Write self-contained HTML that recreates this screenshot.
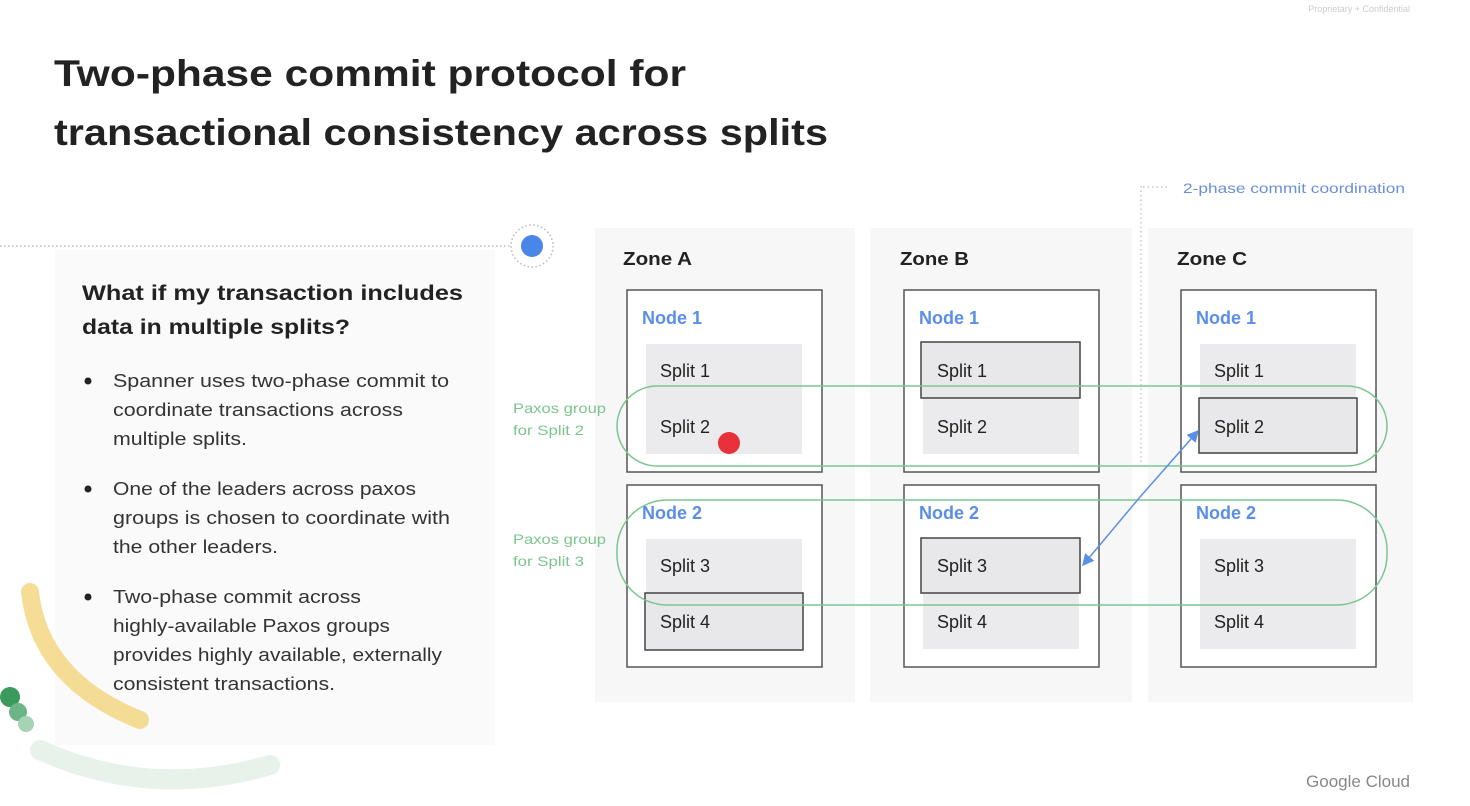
<!DOCTYPE html>
<html><head><meta charset="utf-8"><style>
html,body{margin:0;padding:0;background:#fff;}
body{width:1470px;height:806px;overflow:hidden;position:relative;font-family:"Liberation Sans",sans-serif;}
svg{position:absolute;left:0;top:0;}
</style></head><body>
<svg width="1470" height="806" viewBox="0 0 1470 806" font-family="Liberation Sans, sans-serif">
<defs>
<marker id="ah" markerWidth="8" markerHeight="8" refX="7" refY="4" orient="auto"><path d="M0,0 L8,4 L0,8 z" fill="#5b8ee6"/></marker>
</defs>
<text x="1410" y="12" font-size="9" fill="#ccc" text-anchor="end">Proprietary + Confidential</text>
<text x="54" y="86" font-size="37" font-weight="bold" fill="#222" textLength="632" lengthAdjust="spacingAndGlyphs">Two-phase commit protocol for</text>
<text x="54" y="145" font-size="37" font-weight="bold" fill="#222" textLength="774" lengthAdjust="spacingAndGlyphs">transactional consistency across splits</text>

<!-- left card -->
<rect x="55" y="250" width="440" height="495" fill="#fafafa"/>
<line x1="0" y1="246" x2="510" y2="246" stroke="#bbb" stroke-width="1.5" stroke-dasharray="1.5 2.5"/>
<circle cx="532" cy="246" r="21" fill="none" stroke="#bbb" stroke-width="1.5" stroke-dasharray="1.5 2.5"/>
<circle cx="532" cy="246" r="11" fill="#4a86e8"/>
<path d="M30,592 Q40,680 140,720" fill="none" stroke="#f3d57a" stroke-width="18" stroke-linecap="round" opacity="0.8"/>
<path d="M40,750 Q150,800 270,765" fill="none" stroke="#e6f2ea" stroke-width="20" stroke-linecap="round"/>
<circle cx="10" cy="697" r="10" fill="#3a9a5c"/>
<circle cx="18" cy="712" r="9" fill="#6bb586"/>
<circle cx="26" cy="724" r="8" fill="#a5d3b4"/>

<text x="82" y="300" font-size="21" font-weight="bold" fill="#222" textLength="381" lengthAdjust="spacingAndGlyphs">What if my transaction includes</text>
<text x="82" y="334" font-size="21" font-weight="bold" fill="#222" textLength="268" lengthAdjust="spacingAndGlyphs">data in multiple splits?</text>
<g font-size="18" fill="#333" lengthAdjust="spacingAndGlyphs">
<circle cx="88" cy="381" r="3.5" fill="#222"/>
<text x="113" y="387" textLength="336" lengthAdjust="spacingAndGlyphs">Spanner uses two-phase commit to</text>
<text x="113" y="416" textLength="290" lengthAdjust="spacingAndGlyphs">coordinate transactions across</text>
<text x="113" y="445" textLength="134" lengthAdjust="spacingAndGlyphs">multiple splits.</text>
<circle cx="88" cy="489" r="3.5" fill="#222"/>
<text x="113" y="495" textLength="303" lengthAdjust="spacingAndGlyphs">One of the leaders across paxos</text>
<text x="113" y="524" textLength="337" lengthAdjust="spacingAndGlyphs">groups is chosen to coordinate with</text>
<text x="113" y="553" textLength="165" lengthAdjust="spacingAndGlyphs">the other leaders.</text>
<circle cx="88" cy="597" r="3.5" fill="#222"/>
<text x="113" y="603" textLength="248" lengthAdjust="spacingAndGlyphs">Two-phase commit across</text>
<text x="113" y="632" textLength="277" lengthAdjust="spacingAndGlyphs">highly-available Paxos groups</text>
<text x="113" y="661" textLength="329" lengthAdjust="spacingAndGlyphs">provides highly available, externally</text>
<text x="113" y="690" textLength="222" lengthAdjust="spacingAndGlyphs">consistent transactions.</text>
</g>

<!-- zone backgrounds -->
<rect x="595" y="228" width="260" height="474" fill="#f7f7f7"/>
<rect x="870" y="228" width="262" height="474" fill="#f7f7f7"/>
<rect x="1148" y="228" width="265" height="474" fill="#f7f7f7"/>
<line x1="1141" y1="186" x2="1141" y2="465" stroke="#bbb" stroke-width="1.2" stroke-dasharray="1.5 3"/>
<line x1="1143" y1="187" x2="1170" y2="187" stroke="#bbb" stroke-width="1.2" stroke-dasharray="1.5 3"/>
<text x="1183" y="193" font-size="14" fill="#6a8fd8" textLength="222" lengthAdjust="spacingAndGlyphs">2-phase commit coordination</text>

<g font-size="18" font-weight="bold" fill="#222">
<text x="623" y="265" textLength="69" lengthAdjust="spacingAndGlyphs">Zone A</text><text x="900" y="265" textLength="69" lengthAdjust="spacingAndGlyphs">Zone B</text><text x="1177" y="265" textLength="70" lengthAdjust="spacingAndGlyphs">Zone C</text>
</g>

<!-- node boxes -->
<g fill="#fff" stroke="#555" stroke-width="1.5">
<rect x="627" y="290" width="195" height="182"/><rect x="627" y="485" width="195" height="182"/>
<rect x="904" y="290" width="195" height="182"/><rect x="904" y="485" width="195" height="182"/>
<rect x="1181" y="290" width="195" height="182"/><rect x="1181" y="485" width="195" height="182"/>
</g>
<g fill="#ebebed">
<rect x="646" y="344" width="156" height="110"/><rect x="646" y="539" width="156" height="110"/>
<rect x="923" y="344" width="156" height="110"/><rect x="923" y="539" width="156" height="110"/>
<rect x="1200" y="344" width="156" height="110"/><rect x="1200" y="539" width="156" height="110"/>
</g>
<g fill="#e8e8ea" stroke="#444" stroke-width="1.5">
<rect x="921" y="342" width="159" height="56"/>
<rect x="1199" y="398" width="158" height="55"/>
<rect x="645" y="593" width="158" height="57"/>
<rect x="921" y="538" width="159" height="55"/>
</g>
<g font-size="18" font-weight="bold" fill="#5b8ee6">
<text x="642" y="324">Node 1</text><text x="919" y="324">Node 1</text><text x="1196" y="324">Node 1</text>
<text x="642" y="519">Node 2</text><text x="919" y="519">Node 2</text><text x="1196" y="519">Node 2</text>
</g>
<g font-size="18" fill="#222">
<text x="660" y="377">Split 1</text><text x="660" y="433">Split 2</text><text x="660" y="572">Split 3</text><text x="660" y="628">Split 4</text>
<text x="937" y="377">Split 1</text><text x="937" y="433">Split 2</text><text x="937" y="572">Split 3</text><text x="937" y="628">Split 4</text>
<text x="1214" y="377">Split 1</text><text x="1214" y="433">Split 2</text><text x="1214" y="572">Split 3</text><text x="1214" y="628">Split 4</text>
</g>

<!-- paxos groups -->
<rect x="617" y="386" width="770" height="80" rx="40" fill="none" stroke="#7cc58f" stroke-width="1.5"/>
<rect x="617" y="500" width="770" height="105" rx="50" fill="none" stroke="#7cc58f" stroke-width="1.5"/>
<g font-size="14" fill="#7cc58f">
<text x="513" y="413" textLength="93" lengthAdjust="spacingAndGlyphs">Paxos group</text><text x="513" y="435" textLength="71" lengthAdjust="spacingAndGlyphs">for Split 2</text>
<text x="513" y="544" textLength="93" lengthAdjust="spacingAndGlyphs">Paxos group</text><text x="513" y="566" textLength="71" lengthAdjust="spacingAndGlyphs">for Split 3</text>
</g>

<!-- arrow -->
<line x1="1140" y1="497" x2="1198" y2="431" stroke="#5b8ee6" stroke-width="1.5" marker-end="url(#ah)"/>
<line x1="1140" y1="497" x2="1083" y2="565" stroke="#5b8ee6" stroke-width="1.5" marker-end="url(#ah)"/>

<circle cx="729" cy="443" r="11" fill="#e8313a"/>
<text x="1410" y="787" font-size="17" fill="#888" text-anchor="end">Google Cloud</text>
</svg>
</body></html>
